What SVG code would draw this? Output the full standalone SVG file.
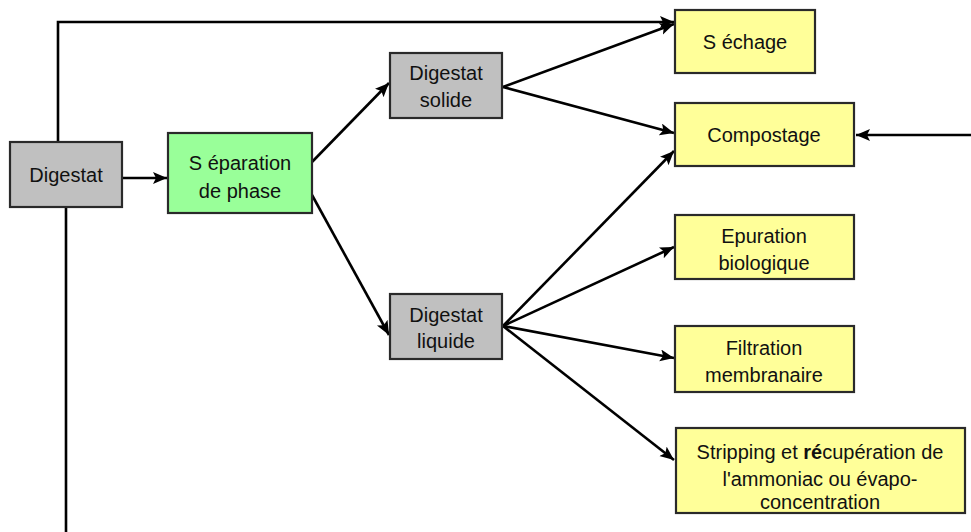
<svg xmlns="http://www.w3.org/2000/svg" width="971" height="532" viewBox="0 0 971 532">
<defs>
<marker id="ah" markerUnits="userSpaceOnUse" markerWidth="16" markerHeight="14" refX="14" refY="6" orient="auto">
<path d="M0,0 L14,6 L0,12 L3,6 Z" fill="#000"/>
</marker>
<style>
.box{stroke:#2a2a2a;stroke-width:2.2}
.gray{fill:#c0c0c0}
.green{fill:#99ff99}
.yellow{fill:#ffff99}
.lbl{font-family:"Liberation Sans",Arial,sans-serif;font-size:20px;fill:#111;text-anchor:middle}
.c{fill:none;stroke:#000;stroke-width:2.6}
</style>
</defs>
<rect width="971" height="532" fill="#fff"/>
<g id="connectors">
<path class="c" d="M58,142 V22 H674" marker-end="url(#ah)"/>
<path class="c" d="M66,207 V532"/>
<path class="c" d="M122,178 H167" marker-end="url(#ah)"/>
<path class="c" d="M312,162 L389,83" marker-end="url(#ah)"/>
<path class="c" d="M312,195 L389,335" marker-end="url(#ah)"/>
<path class="c" d="M503,87 L674,24" marker-end="url(#ah)"/>
<path class="c" d="M503,87 L674,133" marker-end="url(#ah)"/>
<path class="c" d="M503,326 L674,151" marker-end="url(#ah)"/>
<path class="c" d="M503,326 L674,247" marker-end="url(#ah)"/>
<path class="c" d="M503,326 L674,358" marker-end="url(#ah)"/>
<path class="c" d="M503,326 L674,460" marker-end="url(#ah)"/>
<path class="c" d="M971,135 H856" marker-end="url(#ah)"/>
</g>
<g id="digestat">
<rect class="box gray" x="10" y="142" width="112" height="65"/>
<text class="lbl" x="66" y="182">Digestat</text>
</g>
<g id="separation">
<rect class="box green" x="168" y="133" width="144" height="80"/>
<text class="lbl" x="240" y="170">S éparation</text>
<text class="lbl" x="240" y="198">de phase</text>
</g>
<g id="solide">
<rect class="box gray" x="390" y="53" width="112" height="65"/>
<text class="lbl" x="446" y="80">Digestat</text>
<text class="lbl" x="446" y="107">solide</text>
</g>
<g id="liquide">
<rect class="box gray" x="390" y="294" width="112" height="65"/>
<text class="lbl" x="446" y="322">Digestat</text>
<text class="lbl" x="446" y="348">liquide</text>
</g>
<g id="sechage">
<rect class="box yellow" x="675" y="10" width="140" height="63"/>
<text class="lbl" x="745" y="49">S échage</text>
</g>
<g id="compostage">
<rect class="box yellow" x="675" y="103" width="179" height="63"/>
<text class="lbl" x="764" y="142">Compostage</text>
</g>
<g id="epuration">
<rect class="box yellow" x="675" y="215" width="179" height="64"/>
<text class="lbl" x="764" y="243">Epuration</text>
<text class="lbl" x="764" y="270">biologique</text>
</g>
<g id="filtration">
<rect class="box yellow" x="675" y="326" width="179" height="66"/>
<text class="lbl" x="764" y="355">Filtration</text>
<text class="lbl" x="764" y="382">membranaire</text>
</g>
<g id="stripping">
<rect class="box yellow" x="676" y="428" width="289" height="85"/>
<text class="lbl" x="820" y="459">Stripping et <tspan font-weight="bold">ré</tspan>cupération de</text>
<text class="lbl" x="820" y="486">l'ammoniac ou évapo-</text>
<text class="lbl" x="820" y="509">concentration</text>
</g>
</svg>
